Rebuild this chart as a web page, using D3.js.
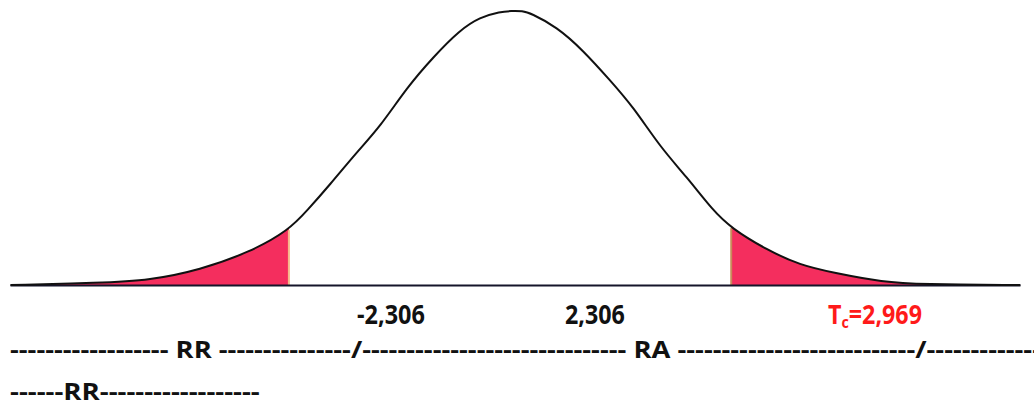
<!DOCTYPE html>
<html lang="pt">

<head>
    <meta charset="utf-8">
    <title>Distribuição t</title>
    <script type="text/javascript" src="https://d3js.org/d3.v7.min.js"></script>
    <style>
        body {
            margin: 0;
            background: white;
        }

        text {
            font-family: "Open Sans", sans-serif;
            font-weight: 700;
        }
    </style>
</head>

<body>
    <div id="chart"></div>
    <script type="text/javascript">
        const width = 1034;
        const height = 406;

        // curve: t value and density
        const tValues = [-5.16, -4.24, -3.72, -3.21, -2.69, -2.29, -2.10, -1.87, -1.59, -1.35, -1.07, -0.80, -0.53, -0.32, -0.11, 0.00, 0.12,
            0.20, 0.47, 0.74, 1.02, 1.26, 1.54, 1.81, 2.08, 2.27, 2.64, 2.98, 3.32, 3.84, 4.22, 5.25];
        const density = [0.000, 0.003, 0.007, 0.022, 0.048, 0.080, 0.109, 0.146, 0.194, 0.231, 0.289, 0.333, 0.372, 0.391, 0.399, 0.400, 0.400,
            0.397, 0.377, 0.343, 0.299, 0.260, 0.201, 0.158, 0.109, 0.083, 0.051, 0.029, 0.018, 0.004, 0.001, 0.000];

        // shaded tails (rejection region)
        const leftCut = -2.29;
        const rightCut = 2.27;

        const labels = ["-2,306", "2,306"];
        const tcLabel = "2,969";
        const line1 = "------------------ RR ---------------/------------------------------ RA ---------------------------/-------------";
        const line2 = "------RR------------------";

        const data = tValues.map((t, i) => ({ t: t, d: density[i] }));

        const svg = d3.select("#chart")
            .append("svg")
            .attr("width", width)
            .attr("height", height);

        const x = d3.scaleLinear()
            .domain([-5.165, 5.247])
            .range([10, 1020]);

        const y = d3.scaleLinear()
            .domain([0, 0.4])
            .range([285, 11]);

        const area = d3.area()
            .x(d => x(d.t))
            .y0(y(0))
            .y1(d => y(d.d))
            .curve(d3.curveBasis);

        // clip the area to the two tails
        const defs = svg.append("defs");
        defs.append("clipPath").attr("id", "clipL")
            .append("rect")
            .attr("x", 0).attr("y", 0)
            .attr("width", x(leftCut)).attr("height", height);
        defs.append("clipPath").attr("id", "clipR")
            .append("rect")
            .attr("x", x(rightCut)).attr("y", 0)
            .attr("width", width - x(rightCut)).attr("height", height);

        ["clipL", "clipR"].forEach(id => {
            svg.append("path")
                .datum(data)
                .attr("fill", "#f42e5e")
                .attr("clip-path", `url(#${id})`)
                .attr("d", area);
        });

        // thin edges at the cuts
        [leftCut, rightCut].forEach(c => {
            const d = data.find(p => p.t === c);
            svg.append("line")
                .attr("x1", x(c)).attr("x2", x(c))
                .attr("y1", y(0)).attr("y2", y(d.d))
                .attr("stroke", c < 0 ? "#f6b98a" : "#c98a5a")
                .attr("stroke-width", 2);
        });

        // base line
        const xAxis = d3.axisBottom(x).ticks(0).tickSizeOuter(0);
        svg.append("g")
            .attr("transform", `translate(0, ${y(0)})`)
            .call(xAxis)
            .select(".domain")
            .attr("stroke", "#15152a")
            .attr("stroke-width", 2);

        // density curve
        const line = d3.line()
            .x(d => x(d.t))
            .y(d => y(d.d))
            .curve(d3.curveBasis);
        svg.append("path")
            .datum(data)
            .attr("fill", "none")
            .attr("stroke", "#111")
            .attr("stroke-width", 2)
            .attr("d", line);

        // squeeze a text horizontally so it spans x0..x1
        function fit(sel, x0, x1) {
            const w = sel.node().getBBox().width;
            const k = (x1 - x0) / w;
            sel.attr("x", x0)
                .attr("transform", `translate(${x0},0) scale(${k},1) translate(${-x0},0)`);
        }

        const labelSpans = [[357, 425], [565, 625]];
        labels.forEach((l, i) => {
            const t = svg.append("text")
                .attr("x", labelSpans[i][0])
                .attr("y", 324)
                .attr("font-size", 26)
                .attr("fill", "#111")
                .text(l);
            fit(t, labelSpans[i][0], labelSpans[i][1]);
        });

        const tc = svg.append("text")
            .attr("x", 828)
            .attr("y", 324)
            .attr("font-size", 26)
            .attr("fill", "#ff1a1a");
        tc.append("tspan").text("T");
        tc.append("tspan").attr("font-size", 16).attr("dy", 4).text("c");
        tc.append("tspan").attr("dy", -4).text("=" + tcLabel);
        fit(tc, 828, 922);

        const l1 = svg.append("text")
            .attr("x", 10)
            .attr("y", 358)
            .attr("font-size", 23)
            .attr("fill", "#111")
            .attr("xml:space", "preserve")
            .text(line1);
        fit(l1, 10, 1042);

        const l2 = svg.append("text")
            .attr("x", 10)
            .attr("y", 400)
            .attr("font-size", 23)
            .attr("fill", "#111")
            .text(line2);
        fit(l2, 10, 260);
    </script>
</body>

</html>
